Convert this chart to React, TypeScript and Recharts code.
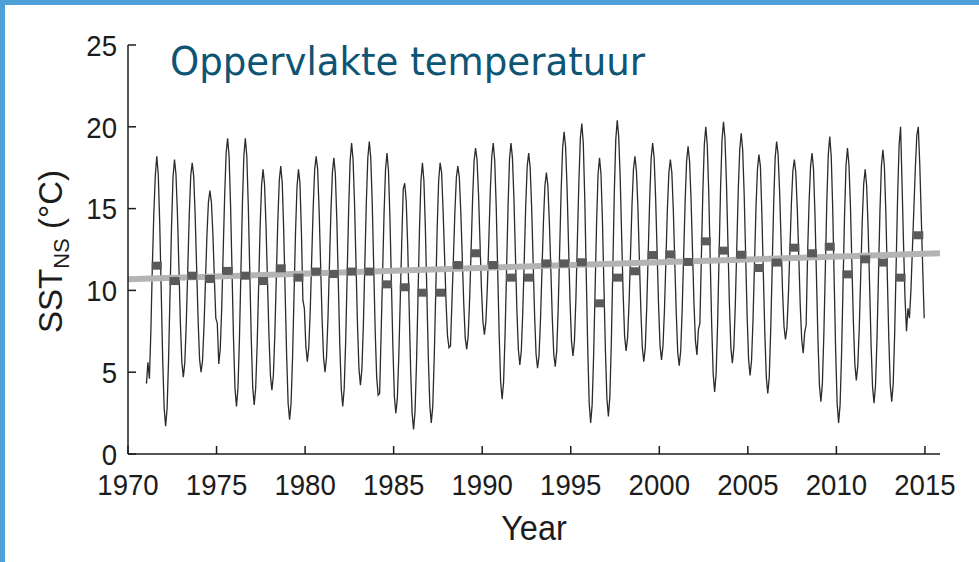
import { ComposedChart, Line, Scatter, XAxis, YAxis } from 'recharts';

// North Sea surface temperature, monthly values 1971-2014
const years = [
  1971, 1972, 1973, 1974, 1975, 1976, 1977, 1978, 1979, 1980, 1981, 1982, 1983, 1984, 1985,
  1986, 1987, 1988, 1989, 1990, 1991, 1992, 1993, 1994, 1995, 1996, 1997, 1998, 1999, 2000,
  2001, 2002, 2003, 2004, 2005, 2006, 2007, 2008, 2009, 2010, 2011, 2012, 2013, 2014,
];

// Jan .. Dec per year
const monthlySst: number[][] = [
  [4.3, 5.6, 4.6, 7.5, 11.5, 14.7, 17.0, 18.2, 17.1, 14.1, 10.0, 5.8], // 1971
  [2.8, 1.7, 2.8, 5.8, 9.9, 13.9, 16.9, 18.0, 17.1, 14.7, 11.4, 8.0], // 1972
  [5.6, 4.7, 5.6, 8.0, 11.3, 14.6, 17.0, 17.8, 17.0, 14.6, 11.4, 8.2], // 1973
  [5.8, 5.0, 5.7, 7.8, 10.6, 13.4, 15.4, 16.1, 15.4, 13.5, 10.8, 8.3], // 1974
  [8.0, 5.5, 6.4, 8.9, 12.4, 15.8, 18.4, 19.3, 18.2, 15.2, 11.1, 7.0], // 1975
  [4.0, 2.9, 4.0, 7.0, 11.1, 15.2, 18.2, 19.3, 18.2, 15.2, 11.2, 7.1], // 1976
  [4.1, 3.0, 4.0, 6.6, 10.2, 13.8, 16.4, 17.4, 16.5, 14.0, 10.6, 7.3], // 1977
  [4.8, 3.9, 4.8, 7.3, 10.8, 14.2, 16.7, 17.6, 16.6, 13.7, 9.8, 6.0], // 1978
  [3.1, 2.1, 3.1, 5.9, 9.7, 13.5, 16.3, 17.4, 16.6, 13.6, 9.4, 8.9], // 1979
  [6.6, 5.65, 6.5, 8.8, 12.0, 15.1, 17.4, 18.2, 17.4, 14.9, 11.6, 8.3], // 1980
  [5.9, 5.0, 5.9, 8.3, 11.6, 14.8, 17.2, 18.1, 17.1, 14.3, 10.5, 6.7], // 1981
  [4.0, 2.9, 4.0, 6.9, 10.9, 14.9, 17.9, 19.0, 18.0, 15.3, 11.6, 7.9], // 1982
  [5.2, 4.2, 5.2, 7.9, 11.7, 15.4, 18.1, 19.1, 18.1, 15.3, 11.4, 7.5], // 1983
  [4.7, 3.6, 3.7, 7.3, 11.0, 14.7, 17.4, 18.4, 17.3, 14.4, 10.4, 6.5], // 1984
  [3.5, 2.5, 3.4, 6.0, 9.5, 13.0, 16.2, 16.55, 15.5, 12.8, 9.0, 5.2], // 1985
  [2.5, 1.5, 2.6, 5.6, 9.6, 13.7, 16.7, 17.8, 16.7, 13.8, 9.8, 5.9], // 1986
  [3.0, 1.9, 2.9, 5.9, 9.8, 13.8, 16.7, 17.8, 17.2, 14.9, 12.1, 9.3], // 1987
  [7.2, 6.5, 6.6, 9.3, 12.0, 14.8, 16.9, 17.6, 16.9, 14.8, 12.0, 9.2], // 1988
  [7.1, 6.4, 7.2, 9.5, 12.5, 15.6, 17.9, 18.7, 18.0, 15.9, 13.0, 10.1], // 1989
  [8.1, 7.3, 8.1, 10.2, 13.1, 16.1, 18.2, 19.0, 17.9, 15.1, 11.2, 7.3], // 1990
  [4.4, 3.35, 4.4, 7.3, 11.2, 15.1, 18.0, 19.0, 18.1, 15.6, 12.2, 8.8], // 1991
  [6.4, 5.45, 6.3, 8.7, 11.9, 15.2, 17.6, 18.4, 17.5, 15.1, 11.8, 8.5], // 1992
  [6.1, 5.24, 6.0, 8.2, 11.2, 14.2, 16.4, 17.2, 16.4, 14.2, 11.3, 8.3], // 1993
  [6.1, 5.34, 6.3, 8.9, 12.5, 16.1, 18.7, 19.7, 18.8, 16.3, 12.8, 9.4], // 1994
  [6.9, 6.0, 6.9, 9.5, 13.1, 16.6, 19.3, 20.2, 19.0, 15.6, 11.0, 6.5], // 1995
  [3.1, 1.9, 3.0, 6.0, 10.0, 14.1, 17.1, 18.1, 17.1, 14.2, 10.2, 6.3], // 1996
  [3.4, 2.3, 3.5, 6.8, 11.3, 15.9, 19.2, 20.4, 19.4, 16.9, 13.3, 9.8], // 1997
  [7.2, 6.3, 7.1, 9.2, 12.2, 15.2, 17.4, 18.2, 17.3, 15.1, 11.9, 8.8], // 1998
  [6.5, 5.65, 6.5, 9.0, 12.3, 15.6, 18.1, 19.0, 18.1, 15.7, 12.4, 9.1], // 1999
  [6.6, 5.75, 6.6, 8.8, 11.9, 15.0, 17.2, 18.0, 17.2, 14.9, 11.7, 8.6], // 2000
  [6.2, 5.4, 6.3, 8.8, 12.1, 15.4, 17.9, 18.8, 17.9, 15.6, 12.4, 9.2], // 2001
  [6.9, 6.06, 7.6, 8.0, 12.0, 16.0, 18.9, 20.0, 18.9, 16.0, 11.9, 7.9], // 2002
  [4.9, 3.8, 4.9, 7.9, 12.1, 16.2, 19.2, 20.3, 19.3, 16.6, 12.9, 9.2], // 2003
  [6.5, 5.55, 6.5, 9.1, 12.6, 16.1, 18.6, 19.6, 18.6, 15.9, 12.2, 8.5], // 2004
  [5.8, 4.8, 5.7, 8.2, 11.6, 15.0, 17.4, 18.3, 17.6, 14.7, 11.0, 7.4], // 2005
  [4.7, 3.7, 4.7, 7.6, 11.4, 15.3, 18.1, 19.1, 18.3, 16.1, 13.1, 10.0], // 2006
  [7.8, 7.0, 7.7, 9.8, 12.5, 15.3, 17.3, 18.0, 17.2, 15.0, 12.1, 9.1], // 2007
  [7.0, 6.16, 7.4, 7.9, 12.3, 15.4, 17.6, 18.4, 17.4, 14.6, 10.8, 7.0], // 2008
  [4.2, 3.2, 4.3, 7.3, 11.3, 15.4, 18.3, 19.4, 18.2, 15.0, 10.6, 6.3], // 2009
  [3.1, 1.9, 3.0, 6.1, 10.3, 14.5, 17.6, 18.7, 17.7, 15.2, 11.6, 8.1], // 2010
  [5.5, 4.5, 5.4, 7.7, 11.0, 14.2, 16.5, 17.4, 16.4, 13.8, 10.3, 6.7], // 2011
  [4.1, 3.1, 4.2, 7.0, 10.9, 14.8, 17.6, 18.6, 17.6, 14.8, 10.9, 7.1], // 2012
  [4.2, 3.2, 4.3, 7.4, 11.6, 15.8, 18.9, 20.0, 16.5, 12.8, 9.5, 7.5], // 2013
  [8.9, 8.3, 10.0, 12.5, 15.0, 17.5, 19.5, 20.0, 17.7, 14.5, 11.3, 8.3], // 2014
];

// annual means (grey squares)
const annualMean = [
  11.51, 10.57, 10.9, 10.7, 11.19, 10.9, 10.57, 11.35, 10.78, 11.15, 11.0, 11.15, 11.15, 10.37, 10.19,
  9.86, 9.86, 11.55, 12.27, 11.55, 10.78, 10.78, 11.65, 11.65, 11.72, 9.21, 10.78, 11.17, 12.16, 12.2,
  11.74, 13.0, 12.43, 12.18, 11.37, 11.7, 12.61, 12.27, 12.67, 10.98, 11.9, 11.7, 10.78, 13.37,
];

// linear trend end points
const trendYears = [1970, 2015.85];
const trendValues = [10.68, 12.27];

const xTicks = [1970, 1975, 1980, 1985, 1990, 1995, 2000, 2005, 2010, 2015];
const yTicks = [0, 5, 10, 15, 20, 25];

const monthlyData = years.flatMap((yr, i) =>
  monthlySst[i].map((v, m) => ({ t: yr + (m + 0.5) / 12, sst: v }))
);
const meanData = years.map((yr, i) => ({ t: yr + 0.625, v: annualMean[i] }));
const trendData = trendYears.map((t, i) => ({ t, v: trendValues[i] }));

const SANS = '"Liberation Sans", Arial, sans-serif';
const INK = '#1c1c1c';

const XTick = (props: any) => {
  const { x, y, payload } = props;
  return (
    <g>
      <line x1={x} x2={x} y1={y} y2={y - 8} stroke={INK} strokeWidth={1.5} />
      <text
        transform={`translate(${x},${y + 41}) scale(0.92,1)`}
        textAnchor="middle"
        fontFamily={SANS}
        fontSize={30}
        fill={INK}
      >
        {payload.value}
      </text>
    </g>
  );
};

const YTick = (props: any) => {
  const { x, y, payload } = props;
  return (
    <g>
      <line x1={x} x2={x + 8} y1={y} y2={y} stroke={INK} strokeWidth={1.5} />
      <text
        transform={`translate(${x - 11},${y + 10.7}) scale(0.92,1)`}
        textAnchor="end"
        fontFamily={SANS}
        fontSize={30}
        fill={INK}
      >
        {payload.value}
      </text>
    </g>
  );
};

const MeanSquare = (props: any) => {
  const { cx, cy } = props;
  if (cx == null || cy == null) return null;
  return <rect x={cx - 5} y={cy - 4} width={10} height={8} fill="#5a5a5a" />;
};

export default function App() {
  return (
    <div style={{ position: 'relative', width: 979, height: 562, overflow: 'hidden', background: '#fff' }}>
      <style>{'body{margin:0}'}</style>
      <ComposedChart
        width={979}
        height={562}
        data={monthlyData}
        margin={{ top: 45, right: 39, bottom: 0, left: 0 }}
      >
        <XAxis
          dataKey="t"
          type="number"
          domain={[1970, 2015.85]}
          ticks={xTicks}
          allowDataOverflow
          height={108}
          tickLine={false}
          tickSize={0}
          tickMargin={0}
          tick={<XTick />}
          axisLine={{ stroke: INK, strokeWidth: 1.5 }}
        />
        <YAxis
          type="number"
          domain={[0, 25]}
          ticks={yTicks}
          allowDataOverflow
          width={128}
          tickLine={false}
          tickSize={0}
          tickMargin={0}
          tick={<YTick />}
          axisLine={{ stroke: INK, strokeWidth: 1.5 }}
        />
        <Line
          dataKey="sst"
          type="linear"
          stroke="#2b2b2b"
          strokeWidth={1.3}
          dot={false}
          activeDot={false}
          isAnimationActive={false}
        />
        <Line
          data={trendData}
          dataKey="v"
          type="linear"
          stroke="#b4b4b4"
          strokeWidth={6}
          dot={false}
          activeDot={false}
          isAnimationActive={false}
        />
        <Scatter data={meanData} dataKey="v" shape={<MeanSquare />} isAnimationActive={false} />
      </ComposedChart>

      {/* axis titles and heading */}
      <svg
        width={979}
        height={562}
        style={{ position: 'absolute', left: 0, top: 0, pointerEvents: 'none' }}
      >
        <text
          transform="translate(170,74.5) scale(0.94,1)"
          fontFamily='"DejaVu Sans", Verdana, sans-serif'
          fontSize={39.5}
          fill="#0e5474"
        >
          Oppervlakte temperatuur
        </text>
        <text
          transform="translate(62,251.5) rotate(-90)"
          textAnchor="middle"
          fontFamily={SANS}
          fontSize={33}
          fill={INK}
        >
          SST
          <tspan fontSize={22} dy={7}>NS</tspan>
          <tspan dy={-7}> (°C)</tspan>
        </text>
        <text
          transform="translate(534,540) scale(0.93,1)"
          textAnchor="middle"
          fontFamily={SANS}
          fontSize={35}
          fill={INK}
        >
          Year
        </text>
      </svg>

      <div style={{ position: 'absolute', left: 0, top: 0, width: 979, height: 5, background: '#4f9fd9' }} />
      <div style={{ position: 'absolute', left: 0, top: 0, width: 5, height: 562, background: '#4f9fd9' }} />
    </div>
  );
}
